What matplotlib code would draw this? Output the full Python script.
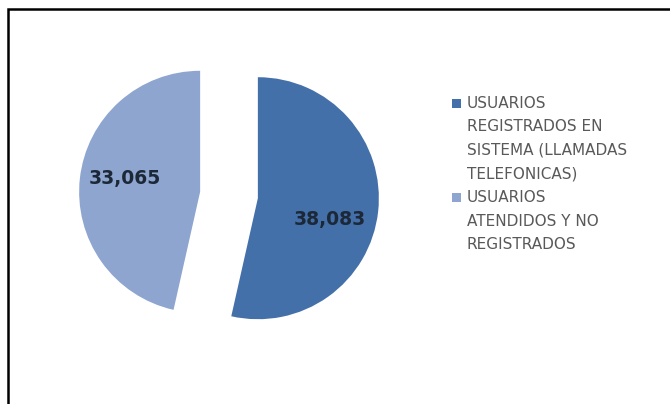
import matplotlib.pyplot as plt
from matplotlib.patches import Rectangle
import numpy as np

# Data
labels = ['USUARIOS\nREGISTRADOS EN\nSISTEMA (LLAMADAS\nTELEFONICAS)',
          'USUARIOS\nATENDIDOS Y NO\nREGISTRADOS']
values = [38083, 33065]
colors = ['#4470A9', '#8DA5CF']

W, H = 670, 404
fig = plt.figure(figsize=(W / 100, H / 100), dpi=100)

# pie axes: centre at (229, 195) px, radius 121 px
R = 121
lim = 1.6
side = 2 * lim * R
cx, cy = 229, H - 195
ax = fig.add_axes([(cx - side / 2) / W, (cy - side / 2) / H, side / W, side / H])
wedges, _ = ax.pie(values, colors=colors, startangle=90, counterclock=False,
                   explode=[0.24, 0.24], radius=1)
ax.set_xlim(-lim, lim)
ax.set_ylim(-lim, lim)
ax.set_aspect('equal')
ax.axis('off')

# value labels inside the slices
label_r = [0.62, 0.63]
label_shift = [-10, -4]
for w, v, r, s in zip(wedges, values, label_r, label_shift):
    ang = np.deg2rad((w.theta1 + w.theta2) / 2 + s)
    x0, y0 = w.center
    ax.text(x0 + r * np.cos(ang), y0 + r * np.sin(ang), f'{v:,}',
            ha='center', va='center', fontsize=13.5, fontweight='bold',
            color='#1C2838')

# legend drawn by hand so the markers sit on the first line
tx, ty, step = 467, 103, 23.6
line = 0
for lab, c in zip(labels, colors):
    fig.patches.append(Rectangle(((tx - 15) / W, (H - ty - step * line - 4.5) / H),
                                 9 / W, 9 / H, transform=fig.transFigure,
                                 facecolor=c, edgecolor='none'))
    for part in lab.split('\n'):
        fig.text(tx / W, (H - ty - step * line) / H, part, ha='left', va='center',
                 fontsize=11, color='#595959')
        line += 1

# chart border (only top and left visible)
fig.patches.append(Rectangle((8 / W, -0.1), 1.2, (H - 9) / H + 0.1,
                             transform=fig.transFigure, fill=False,
                             edgecolor='black', linewidth=1.8))

fig.savefig('out.png', dpi=100)
